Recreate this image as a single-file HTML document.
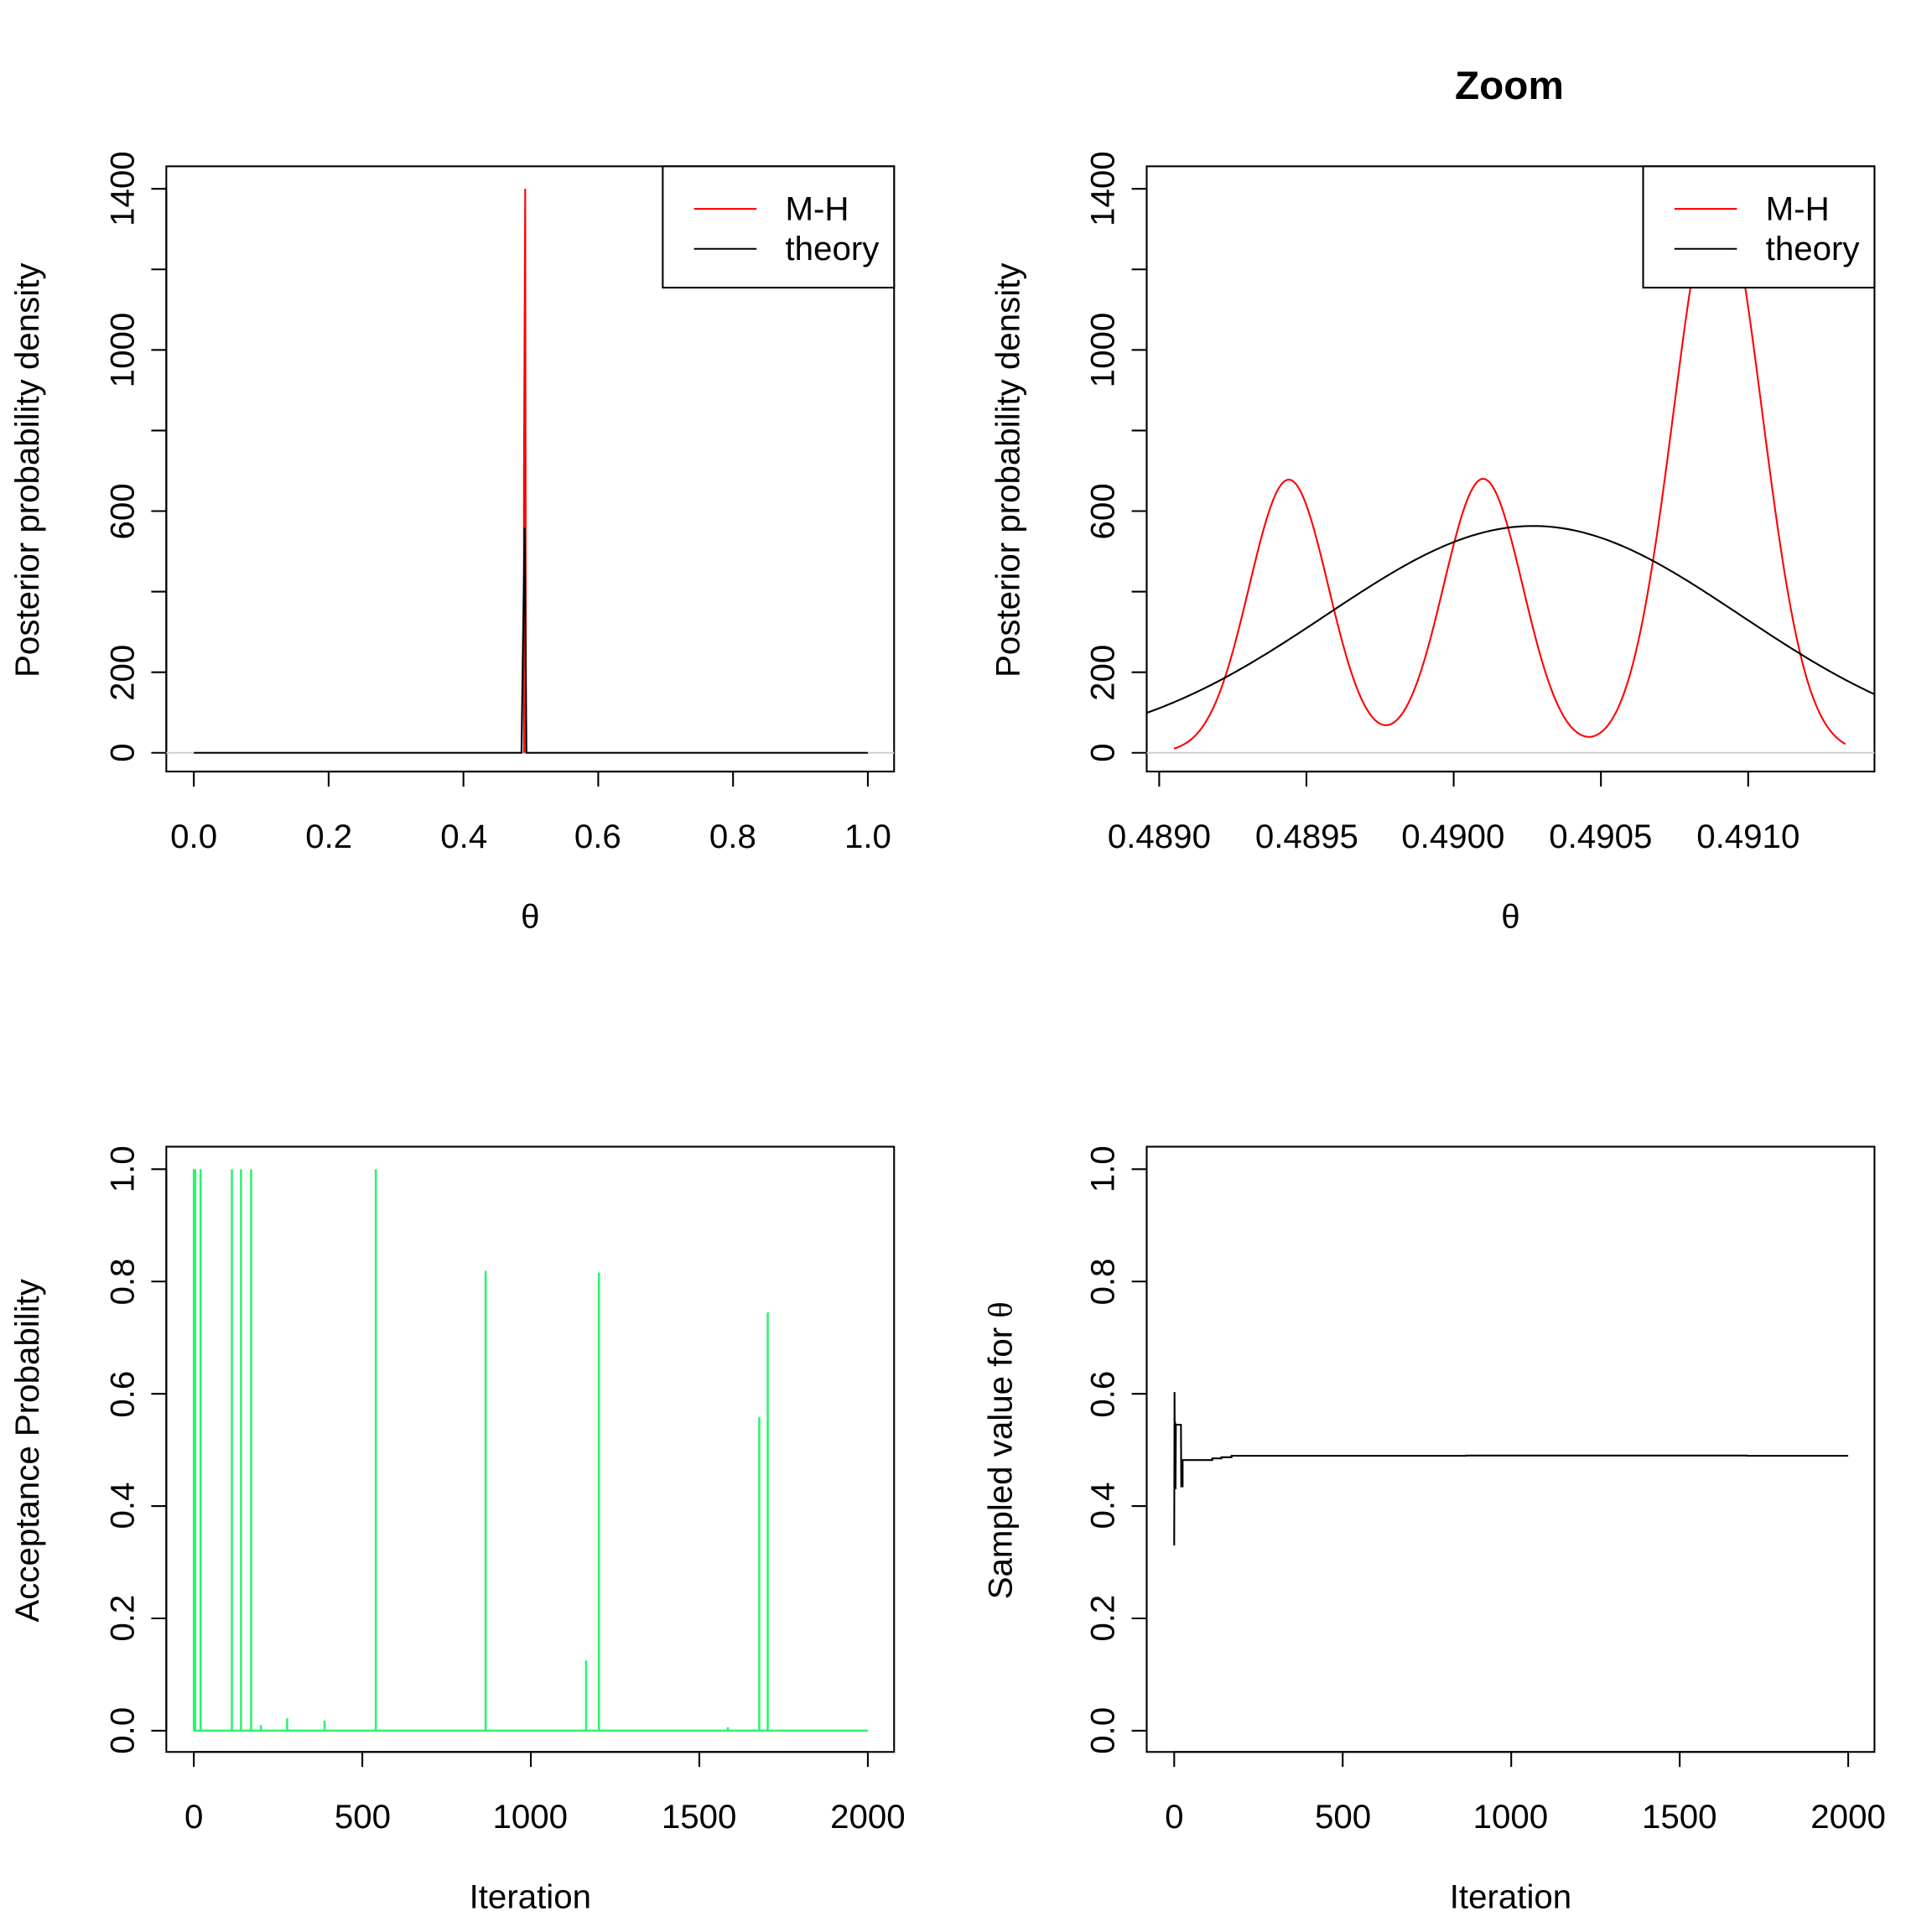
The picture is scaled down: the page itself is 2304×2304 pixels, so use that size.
<!DOCTYPE html>
<html><head><meta charset="utf-8"><style>
html,body{margin:0;padding:0;background:#fff;}
svg{display:block;}
text{font-family:"Liberation Sans",Arial,sans-serif;fill:#000;}
</style></head><body>
<svg id="s" width="2304" height="2304" viewBox="0 0 1545 1545" xmlns="http://www.w3.org/2000/svg">
<defs>
<clipPath id="c2"><rect x="917" y="133" width="582" height="484"/></clipPath>
</defs>
<g id="g" fill="none" stroke="#000" stroke-width="1.4"></g>
<g font-size="27" text-anchor="middle">
<!-- panel1 -->
<text x="155" y="678">0.0</text><text x="263" y="678">0.2</text><text x="371" y="678">0.4</text><text x="478" y="678">0.6</text><text x="586" y="678">0.8</text><text x="694" y="678">1.0</text>
<text x="424" y="742" font-family="Liberation Serif,serif">θ</text>
<g transform="translate(107,0)"><text transform="translate(0,602) rotate(-90)">0</text><text transform="translate(0,538) rotate(-90)">200</text><text transform="translate(0,409) rotate(-90)">600</text><text transform="translate(0,280) rotate(-90)">1000</text><text transform="translate(0,151) rotate(-90)">1400</text></g>
<text transform="translate(31,376) rotate(-90)">Posterior probability density</text>
<!-- panel2 -->
<text x="1207" y="79" font-weight="bold" font-size="32">Zoom</text>
<text x="927" y="678">0.4890</text><text x="1045" y="678">0.4895</text><text x="1162" y="678">0.4900</text><text x="1280" y="678">0.4905</text><text x="1398" y="678">0.4910</text>
<text x="1208" y="742" font-family="Liberation Serif,serif">θ</text>
<g transform="translate(891,0)"><text transform="translate(0,602) rotate(-90)">0</text><text transform="translate(0,538) rotate(-90)">200</text><text transform="translate(0,409) rotate(-90)">600</text><text transform="translate(0,280) rotate(-90)">1000</text><text transform="translate(0,151) rotate(-90)">1400</text></g>
<text transform="translate(815,376) rotate(-90)">Posterior probability density</text>
<!-- panel3 -->
<text x="155" y="1462">0</text><text x="290" y="1462">500</text><text x="424" y="1462">1000</text><text x="559" y="1462">1500</text><text x="694" y="1462">2000</text>
<text x="424" y="1526">Iteration</text>
<g transform="translate(107,0)"><text transform="translate(0,1384) rotate(-90)">0.0</text><text transform="translate(0,1294) rotate(-90)">0.2</text><text transform="translate(0,1204) rotate(-90)">0.4</text><text transform="translate(0,1115) rotate(-90)">0.6</text><text transform="translate(0,1025) rotate(-90)">0.8</text><text transform="translate(0,935) rotate(-90)">1.0</text></g>
<text transform="translate(31,1160) rotate(-90)">Acceptance Probability</text>
<!-- panel4 -->
<text x="939" y="1462">0</text><text x="1074" y="1462">500</text><text x="1208" y="1462">1000</text><text x="1343" y="1462">1500</text><text x="1478" y="1462">2000</text>
<text x="1208" y="1526">Iteration</text>
<g transform="translate(891,0)"><text transform="translate(0,1384) rotate(-90)">0.0</text><text transform="translate(0,1294) rotate(-90)">0.2</text><text transform="translate(0,1204) rotate(-90)">0.4</text><text transform="translate(0,1115) rotate(-90)">0.6</text><text transform="translate(0,1025) rotate(-90)">0.8</text><text transform="translate(0,935) rotate(-90)">1.0</text></g>
<text transform="translate(809,1160) rotate(-90)">Sampled value for <tspan font-family="Liberation Serif,serif">θ</tspan></text>
</g>
</svg>
<script>
var g=document.getElementById('g');var NS='http://www.w3.org/2000/svg';
function el(t,a,p){var e=document.createElementNS(NS,t);for(var k in a)e.setAttribute(k,a[k]);(p||g).appendChild(e);return e;}
function line(x1,y1,x2,y2,c,w){var e=el('line',{x1:x1,y1:y1,x2:x2,y2:y2,stroke:c||'#000'});if(w)e.setAttribute('stroke-width',w);}
function path(d,c,p){el('path',{d:d,stroke:c||'#000'},p);}
[[133,133],[917,133],[133,917],[917,917]].forEach(function(b){el('rect',{x:b[0],y:b[1],width:582,height:484});});
[133,917].forEach(function(bx){for(var i=0;i<=7;i++){var y=602-i*64.43;line(bx,y,bx-12,y);}line(bx,602,bx,151);});
line(155,617,694,617);for(var i=0;i<=5;i++){var x=155+i*107.8;line(x,617,x,629);}
line(927,617,1398,617);for(var i=0;i<=4;i++){var x=927+i*117.75;line(x,617,x,629);}
[133,917].forEach(function(bx){for(var i=0;i<=5;i++){var y=1384-i*89.8;line(bx,y,bx-12,y);}line(bx,1384,bx,935);});
[155,939].forEach(function(x0){line(x0,1401,x0+539,1401);for(var i=0;i<=4;i++){var x=x0+i*134.75;line(x,1401,x,1413);}});
line(133,602,715,602,'#d0d0d0');line(917,602,1499,602,'#d0d0d0');
path('M419,602 L419,381 L420,151 L420.6,602','#ff0000');
path('M155,602 L417,602 L419.5,422 L421,602 L694,602','#000');
var cg=el('g',{'clip-path':'url(#c2)'});
function px(x){return 927+(x-0.489)/0.0005*117.75;}function py(v){return 602-v*0.32215;}
function gs(x,m,s){return Math.exp(-(x-m)*(x-m)/(2*s*s));}
var d='';for(var i=0;i<=600;i++){var x=0.48905+(0.49133-0.48905)*i/600;var v=678*gs(x,0.48944,0.000135)+680*gs(x,0.49010,0.000135)+1400*gs(x,0.490897,0.00015);d+=(i?'L':'M')+px(x).toFixed(2)+','+py(v).toFixed(2);}
path(d,'#ff0000',cg);
d='';for(var i=0;i<=300;i++){var x=0.48890+(0.49150-0.48890)*i/300;var v=563*gs(x,0.49027,0.000704);d+=(i?'L':'M')+px(x).toFixed(2)+','+py(v).toFixed(2);}
path(d,'#000',cg);
[530,1314].forEach(function(lx){el('rect',{x:lx,y:133,width:185,height:97,fill:'#fff'});line(lx+25,167,lx+75,167,'#ff0000');line(lx+25,199,lx+75,199,'#000');
var t=el('text',{x:lx+98,y:176,'font-size':27,stroke:'none',fill:'#000'});t.textContent='M-H';
t=el('text',{x:lx+98,y:208,'font-size':27,stroke:'none',fill:'#000'});t.textContent='theory';});
var gc='#27f56c';function ix(i,x0){return x0+i*0.2695;}function ay(v){return 1384-v*449;}
var sp=[[0,1],[4,1],[20,1],[113,1],[140,1],[170,1],[199,0.01],[277,0.022],[388,0.018],[540,1],[866,0.819],[1164,0.125],[1202,0.816],[1585,0.006],[1678,0.559],[1703,0.745]];
sp.forEach(function(s){var x=ix(s[0],155);line(x,1384,x,ay(s[1]),gc,1.7);});
line(155,1384,694,1384,gc,1.7);
var tr=[[0,0.33],[1,0.603],[2,0.43],[3,0.55],[4,0.43],[5,0.545],[20,0.545],[21,0.435],[25,0.435],[25,0.482],[113,0.482],[113,0.485],[140,0.485],[140,0.487],[170,0.487],[170,0.4895],[866,0.4895],[866,0.490],[1700,0.490],[1700,0.4895],[2000,0.4895]];
d='';tr.forEach(function(p,i){d+=(i?'L':'M')+ix(p[0],939).toFixed(2)+','+ay(p[1]).toFixed(2);});
path(d,'#000');
</script>
</body></html>
